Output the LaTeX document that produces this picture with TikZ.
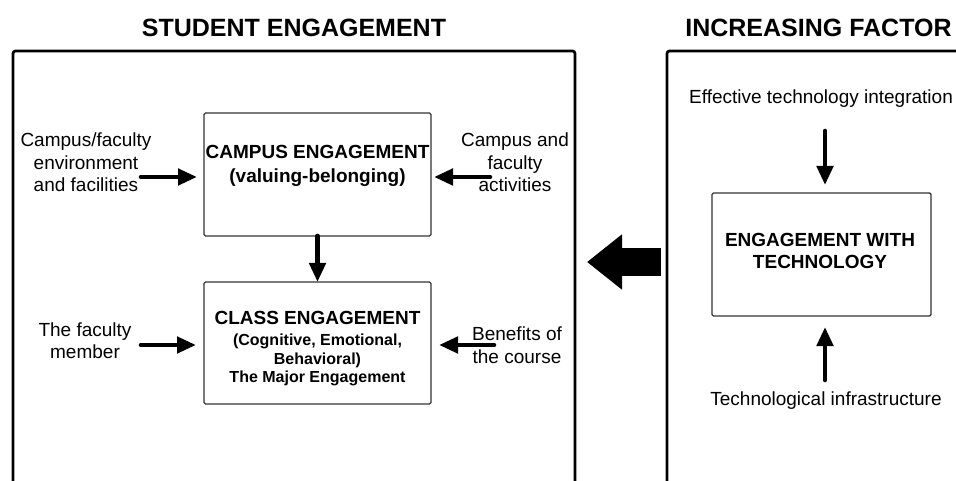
\documentclass[tikz,border=0pt]{standalone}
\usepackage{fontspec}
\setmainfont{Liberation Sans}
\usetikzlibrary{arrows.meta}
\begin{document}
\begin{tikzpicture}[x=1pt,y=-1pt,
  outerbox/.style={draw, line width=2.7pt, rounded corners=2.5pt, outer sep=0pt, inner sep=0pt},
  innerbox/.style={draw=black!80, line width=1.4pt, rounded corners=1.5pt, outer sep=0pt, inner sep=0pt},
  ttl/.style={font=\bfseries\fontsize{25}{30}\selectfont, inner sep=0pt, anchor=base},
  lbl/.style={font=\fontsize{19}{22.5}\selectfont, align=center, inner sep=0pt},
  boxtxt/.style={font=\bfseries\fontsize{19}{24}\selectfont, align=center, inner sep=0pt},
  arr/.style={line width=4.6pt, line cap=round, -{Triangle[length=19pt,width=16pt]}},
  bigarr/.style={line width=27pt, -{Triangle[length=35pt,width=53pt]}}
]
\useasboundingbox (0,0) rectangle (956,481);

% titles
\node[ttl] (t1) at (294,37) {STUDENT ENGAGEMENT};
\node[ttl] (t2) at (818.5,37) {INCREASING FACTOR};

% outer boxes
\node[outerbox, minimum width=562pt, minimum height=449pt] (seBox) at (294,275.5) {};
\node[outerbox, minimum width=308pt, minimum height=449pt] (ifBox) at (821,275.5) {};

% inner boxes
\node[innerbox, minimum width=227pt, minimum height=123pt] (campus) at (317.5,174.5) {};
\node[innerbox, minimum width=227pt, minimum height=122pt] (class) at (317.5,343) {};
\node[innerbox, minimum width=219pt, minimum height=123pt] (tech) at (821.5,254.5) {};

% box texts
\node[boxtxt] (campusT) at (317.5,166) {CAMPUS ENGAGEMENT\\(valuing-belonging)};
\node[font=\bfseries\fontsize{16}{18.5}\selectfont, align=center, inner sep=0pt] (classT) at (317.5,349)
  {{\fontsize{19}{21}\selectfont CLASS ENGAGEMENT}\\[2.5pt](Cognitive, Emotional,\\Behavioral)\\The Major Engagement};
\node[boxtxt, font=\bfseries\fontsize{19}{22}\selectfont] (techT) at (820,251) {ENGAGEMENT WITH\\TECHNOLOGY};

% side labels
\node[lbl] (envL) at (86,162.5) {Campus/faculty\\environment\\and facilities};
\node[lbl] (actL) at (515,162.5) {Campus and\\faculty\\activities};
\node[lbl] (facL) at (85,340.5) {The faculty\\member};
\node[lbl] (benL) at (517,345) {Benefits of\\the course};
\node[lbl, anchor=base] (effL) at (821,104) {Effective technology integration};
\node[lbl, anchor=base] (infL) at (826,405) {Technological infrastructure};

% arrow tails
\coordinate (a1s) at (141,177);
\coordinate (a2s) at (490,177);
\coordinate (a4s) at (141,345);
\coordinate (a5s) at (494,345);
\coordinate (a6s) at (825,131);
\coordinate (a7s) at (825,380);
\coordinate (bigS) at (661,262);
\coordinate (bigE) at (587,262);

\draw[arr, shorten >=7pt] (a1s) -- (a1s -| campus.west);
\draw[arr, shorten >=3pt] (a2s) -- (a2s -| campus.east);
\draw[arr] (campus.south) -- (class.north);
\draw[arr, shorten >=8pt] (a4s) -- (a4s -| class.west);
\draw[arr, shorten >=8pt] (a5s) -- (a5s -| class.east);
\draw[arr, shorten >=8pt] (a6s) -- (a6s |- tech.north);
\draw[arr, shorten >=11pt] (a7s) -- (a7s |- tech.south);
\draw[bigarr] (bigS) -- (bigE);
\end{tikzpicture}
\end{document}
